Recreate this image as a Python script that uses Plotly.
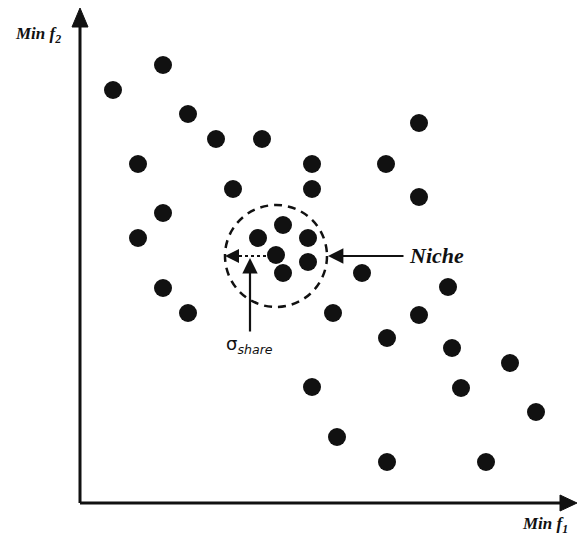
import plotly.graph_objects as go

# Population in objective space (f1, f2) — origin at the axes corner
f1 = [33, 83, 108, 136, 182, 58, 232, 306, 339, 153, 232, 339, 83, 58, 178, 203, 228, 196,
      228, 203, 282, 83, 108, 253, 339, 368, 307, 372, 430, 232, 381, 456, 257, 307, 406]
f2 = [413, 438, 389, 364, 364, 339, 339, 339, 380, 314, 314, 306, 290, 265, 265, 278, 265, 248,
      241, 230, 230, 215, 190, 190, 188, 216, 165, 155, 140, 116, 115, 91, 66, 41, 41]

niche_center = (196, 247)
niche_radius = 51

X0, X1 = -80, 500
Y0, Y1 = -36, 503

fig = go.Figure()
fig.add_trace(go.Scatter(x=f1, y=f2, mode="markers",
                         marker=dict(size=18, color="#111111", line=dict(width=0)),
                         hoverinfo="skip", showlegend=False))

ink = "#111111"
shapes = []
# axes
shapes.append(dict(type="line", x0=0, y0=0, x1=0, y1=478, line=dict(color=ink, width=3)))
shapes.append(dict(type="line", x0=0, y0=0, x1=482, y1=0, line=dict(color=ink, width=3)))
shapes.append(dict(type="path", path="M -8,476 L 8,476 L 0,495 Z", fillcolor=ink, line=dict(color=ink, width=1)))
shapes.append(dict(type="path", path="M 480,-8 L 480,8 L 497,0 Z", fillcolor=ink, line=dict(color=ink, width=1)))
# niche circle
cx, cy = niche_center
r = niche_radius
shapes.append(dict(type="circle", x0=cx - r, y0=cy - r, x1=cx + r, y1=cy + r,
                   line=dict(color=ink, width=2.5, dash="8px,6px")))
# dotted radius line
shapes.append(dict(type="line", x0=cx - 4, y0=cy, x1=cx - 40, y1=cy,
                   line=dict(color=ink, width=2, dash="dot")))
fig.update_layout(shapes=shapes)

# arrowheads
fig.add_annotation(x=cx - 51, y=cy, ax=cx - 38, ay=cy, axref="x", ayref="y", xref="x", yref="y",
                   text="", showarrow=True, arrowhead=2, arrowsize=1.4, arrowwidth=2, arrowcolor=ink)
fig.add_annotation(x=170, y=cy - 2, ax=170, ay=170, axref="x", ayref="y", xref="x", yref="y",
                   text="", showarrow=True, arrowhead=2, arrowsize=1.4, arrowwidth=2.2, arrowcolor=ink)
fig.add_annotation(x=248, y=cy, ax=325, ay=cy, axref="x", ayref="y", xref="x", yref="y",
                   text="", showarrow=True, arrowhead=2, arrowsize=1.4, arrowwidth=2.2, arrowcolor=ink)

# labels
fig.add_annotation(x=327, y=cy + 1, xref="x", yref="y", xanchor="left", yanchor="middle",
                   text="<b><i>Niche</i></b>", showarrow=False,
                   font=dict(family="Liberation Serif", size=22, color=ink))
fig.add_annotation(x=169, y=158, xref="x", yref="y", xanchor="center", yanchor="middle",
                   text="σ<sub><i>share</i></sub>", showarrow=False,
                   font=dict(family="DejaVu Sans", size=18, color=ink))
fig.add_annotation(x=-42, y=468, xref="x", yref="y", xanchor="center", yanchor="middle",
                   text="<b><i>Min f</i></b><sub><b><i>2</i></b></sub>", showarrow=False,
                   font=dict(family="Liberation Serif", size=17, color=ink))
fig.add_annotation(x=465, y=-22, xref="x", yref="y", xanchor="center", yanchor="middle",
                   text="<b><i>Min f</i></b><sub><b><i>1</i></b></sub>", showarrow=False,
                   font=dict(family="Liberation Serif", size=17, color=ink))

fig.update_layout(width=580, height=539, margin=dict(l=0, r=0, t=0, b=0),
                  paper_bgcolor="white", plot_bgcolor="white",
                  xaxis=dict(range=[X0, X1], visible=False, fixedrange=True),
                  yaxis=dict(range=[Y0, Y1], visible=False, fixedrange=True),
                  showlegend=False)
fig.write_html("out.html")
